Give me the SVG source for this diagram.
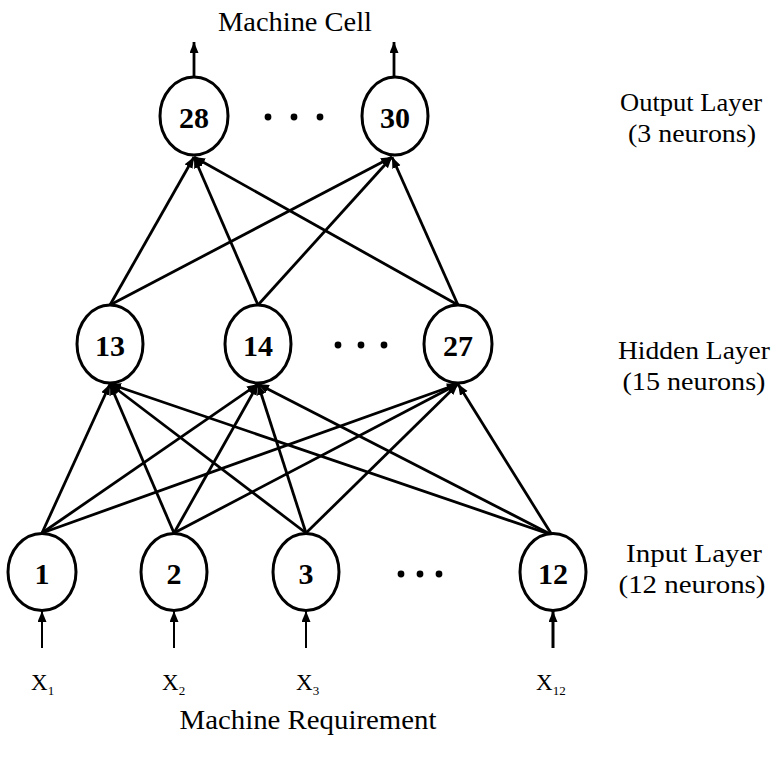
<svg xmlns="http://www.w3.org/2000/svg" width="775" height="758" viewBox="0 0 775 758">
<style>
.node ellipse{fill:#fff;stroke:#000;stroke-width:3}
.num{font-family:"Liberation Serif",serif;font-weight:bold;font-size:30px;text-anchor:middle;dominant-baseline:central;fill:#000}
.lbl{font-family:"Liberation Serif",serif;font-size:25px;text-anchor:middle;fill:#000}
.big{font-family:"Liberation Serif",serif;font-size:28px;text-anchor:middle;fill:#000}
.xl{font-family:"Liberation Serif",serif;font-size:23px;fill:#000}
.conn line{stroke:#000;stroke-width:2.8;marker-end:url(#ah)}
.dot{fill:#000}
</style>
<defs>
<marker id="ah" markerUnits="userSpaceOnUse" markerWidth="12" markerHeight="10" refX="11" refY="4.5" orient="auto">
<path d="M0,0 L11,4.5 L0,9 Z" fill="#000"/>
</marker>
</defs>
<text class="big" x="295" y="31" textLength="154" lengthAdjust="spacingAndGlyphs">Machine Cell</text>
<g id="connectors" class="conn">
<line x1="194" y1="77" x2="194" y2="42"/>
<line x1="394" y1="77" x2="394" y2="42"/>
<line x1="110" y1="305" x2="194" y2="157"/>
<line x1="258" y1="305" x2="194" y2="157"/>
<line x1="458" y1="305" x2="194" y2="157"/>
<line x1="110" y1="305" x2="392" y2="157"/>
<line x1="258" y1="305" x2="392" y2="157"/>
<line x1="458" y1="305" x2="392" y2="157"/>
<line x1="42" y1="533" x2="110" y2="384"/>
<line x1="174" y1="533" x2="110" y2="384"/>
<line x1="306" y1="533" x2="110" y2="384"/>
<line x1="552" y1="535" x2="110" y2="384"/>
<line x1="42" y1="533" x2="258" y2="384"/>
<line x1="174" y1="533" x2="258" y2="384"/>
<line x1="306" y1="533" x2="258" y2="384"/>
<line x1="552" y1="535" x2="258" y2="384"/>
<line x1="42" y1="533" x2="458" y2="384"/>
<line x1="174" y1="533" x2="458" y2="384"/>
<line x1="306" y1="533" x2="458" y2="384"/>
<line x1="552" y1="535" x2="458" y2="384"/>
<line x1="42" y1="648" x2="42" y2="611" style="stroke-width:2"/>
<line x1="174" y1="648" x2="174" y2="611" style="stroke-width:2"/>
<line x1="306" y1="648" x2="306" y2="611" style="stroke-width:2"/>
<line x1="553" y1="648" x2="553" y2="611" style="stroke-width:3"/>
</g>
<g id="n28" class="node"><ellipse cx="194" cy="116" rx="34" ry="39"/><text class="num" x="194" y="117">28</text></g>
<g id="n30" class="node"><ellipse cx="395" cy="116" rx="33" ry="39"/><text class="num" x="395" y="117">30</text></g>
<g id="dots-out"><circle class="dot" cx="268" cy="117" r="3.4"/><circle class="dot" cx="294" cy="117" r="3.4"/><circle class="dot" cx="320" cy="117" r="3.4"/></g>
<g id="n13" class="node"><ellipse cx="110" cy="344" rx="33" ry="39"/><text class="num" x="110" y="345">13</text></g>
<g id="n14" class="node"><ellipse cx="258" cy="344" rx="33" ry="39"/><text class="num" x="258" y="345">14</text></g>
<g id="n27" class="node"><ellipse cx="458" cy="344" rx="34" ry="39"/><text class="num" x="458" y="345">27</text></g>
<g id="dots-hid"><circle class="dot" cx="338" cy="345" r="3.4"/><circle class="dot" cx="361" cy="345" r="3.4"/><circle class="dot" cx="384" cy="345" r="3.4"/></g>
<g id="n1" class="node"><ellipse cx="42" cy="572" rx="34" ry="38.5"/><text class="num" x="42" y="573">1</text></g>
<g id="n2" class="node"><ellipse cx="174" cy="572" rx="33" ry="38.5"/><text class="num" x="174" y="573">2</text></g>
<g id="n3" class="node"><ellipse cx="306" cy="572" rx="33" ry="38.5"/><text class="num" x="306" y="573">3</text></g>
<g id="n12" class="node"><ellipse cx="553" cy="572" rx="33" ry="38.5"/><text class="num" x="553" y="573">12</text></g>
<g id="dots-in"><circle class="dot" cx="401" cy="574" r="3.4"/><circle class="dot" cx="420" cy="574" r="3.4"/><circle class="dot" cx="439" cy="574" r="3.4"/></g>
<g id="labels">
<text class="lbl" x="691" y="111" textLength="142" lengthAdjust="spacingAndGlyphs">Output Layer</text>
<text class="lbl" x="692" y="142" textLength="128" lengthAdjust="spacingAndGlyphs">(3 neurons)</text>
<text class="lbl" x="694" y="359" textLength="152" lengthAdjust="spacingAndGlyphs">Hidden Layer</text>
<text class="lbl" x="694" y="390" textLength="143" lengthAdjust="spacingAndGlyphs">(15 neurons)</text>
<text class="lbl" x="694" y="562" textLength="136" lengthAdjust="spacingAndGlyphs">Input Layer</text>
<text class="lbl" x="692" y="593" textLength="147" lengthAdjust="spacingAndGlyphs">(12 neurons)</text>
</g>
<g id="xlabels">
<text class="xl" x="31" y="690">X<tspan font-size="13" dy="5">1</tspan></text>
<text class="xl" x="162" y="690">X<tspan font-size="13" dy="5">2</tspan></text>
<text class="xl" x="296" y="690">X<tspan font-size="13" dy="5">3</tspan></text>
<text class="xl" x="536" y="690">X<tspan font-size="13" dy="5">12</tspan></text>
</g>
<text class="big" x="308" y="729" textLength="257" lengthAdjust="spacingAndGlyphs">Machine Requirement</text>
</svg>
